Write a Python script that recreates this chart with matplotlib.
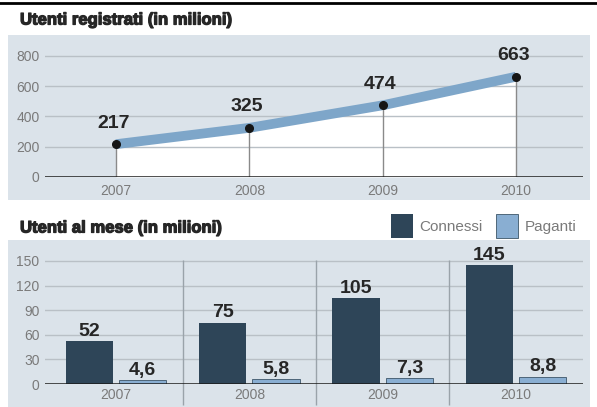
import matplotlib
matplotlib.use('Agg')
import matplotlib.pyplot as plt
import matplotlib.patheffects as pe
from matplotlib.patches import Rectangle
import numpy as np

# data
years = [2007, 2008, 2009, 2010]
registrati = [217, 325, 474, 663]
registrati_labels = ['217', '325', '474', '663']
connessi = [52, 75, 105, 145]
paganti = [4.6, 5.8, 7.3, 8.8]
connessi_labels = ['52', '75', '105', '145']
paganti_labels = ['4,6', '5,8', '7,3', '8,8']
top_yticks = [0, 200, 400, 600, 800]
bottom_yticks = [0, 30, 60, 90, 120, 150]

W, H = 597, 407
panel_color = '#dbe3ea'
band_color = '#7ea6c9'
dark_bar = '#2e4558'
light_bar = '#89aed2'
grid_color = '#b9c0c6'
tick_color = '#7a7a7a'
text_dark = '#262626'

font_main = ['Liberation Sans', 'DejaVu Sans']

def px_rect(x0, y0, x1, y1):
    # pixel box (top-left origin) -> figure fraction [l, b, w, h]
    return [x0 / W, 1 - y1 / H, (x1 - x0) / W, (y1 - y0) / H]

fig = plt.figure(figsize=(W / 100, H / 100), dpi=100)
fig.patch.set_facecolor('white')

# background panels
for (x0, y0, x1, y1) in [(8, 35, 590, 200), (8, 240, 590, 407)]:
    l, b, w, h = px_rect(x0, y0, x1, y1)
    fig.add_artist(Rectangle((l, b), w, h, transform=fig.transFigure,
                             facecolor=panel_color, edgecolor='none', zorder=0))

# top border line
fig.add_artist(plt.Line2D([0, 1], [1 - 3 / H, 1 - 3 / H], transform=fig.transFigure,
                          color='black', linewidth=2))

# titles (stroke makes them heavier, like the printed original)
heavy = [pe.withStroke(linewidth=0.9, foreground=text_dark)]
fig.text(20 / W, 1 - 20 / H, 'Utenti registrati (in milioni)', fontsize=12,
         fontweight='bold', family=font_main, color=text_dark, va='center',
         ha='left', path_effects=heavy)
fig.text(20 / W, 1 - 228 / H, 'Utenti al mese (in milioni)', fontsize=12,
         fontweight='bold', family=font_main, color=text_dark, va='center',
         ha='left', path_effects=heavy)

# ---------- top chart ----------
ax1 = fig.add_axes(px_rect(45, 40, 583, 177))
ax1.set_facecolor('none')
x_left = 2007 - (116 - 45) / 133.3
x_right = 2010 + (583 - 516) / 133.3
ax1.set_xlim(x_left, x_right)
ax1.set_ylim(0, 800 * 137 / 121)

ax1.fill_between(years, 0, registrati, color='white', zorder=1, linewidth=0)
for yv in top_yticks[1:]:
    ax1.axhline(yv, color=grid_color, linewidth=1, zorder=2)
ax1.vlines(years, 0, registrati, color='#8a8a8a', linewidth=1, zorder=2)
ax1.plot(years, registrati, color=band_color, linewidth=7, solid_capstyle='butt', zorder=3)
ax1.plot(years, registrati, 'o', color='#151515', markersize=5.5, zorder=4)
ax1.axhline(0, color='#1a1a1a', linewidth=1.8, zorder=5)

for x, y, lab in zip(years, registrati, registrati_labels):
    ax1.annotate(lab, (x, y), xytext=(-2, 9), textcoords='offset points',
                 ha='center', va='bottom', fontsize=14, fontweight='bold',
                 family=font_main, color=text_dark, zorder=6)

ax1.set_yticks(top_yticks)
ax1.set_yticklabels([str(t) for t in top_yticks])
ax1.set_xticks(years)
ax1.set_xticklabels([str(y) for y in years])
ax1.tick_params(length=0, colors=tick_color, labelsize=10)
ax1.tick_params(axis='y', pad=4)
ax1.tick_params(axis='x', pad=5)
for lab in ax1.get_xticklabels() + ax1.get_yticklabels():
    lab.set_family(font_main)
for s in ax1.spines.values():
    s.set_visible(False)

# ---------- bottom chart ----------
ax2 = fig.add_axes(px_rect(45, 258, 583, 384))
ax2.set_facecolor('none')
ax2.set_xlim(x_left, x_right)
ax2.set_ylim(0, 150 * 126 / 123)

for yv in bottom_yticks[1:]:
    ax2.axhline(yv, color=grid_color, linewidth=1, zorder=1)
seps = [y + 0.5 for y in years[:-1]]
ax2.vlines(seps, -26, 151, color='#9aa3aa', linewidth=1, zorder=1, clip_on=False)

xs = np.array(years)
bw = 0.355
ax2.bar(xs - 0.2, connessi, width=bw, color=dark_bar, zorder=3, label='Connessi')
ax2.bar(xs + 0.2, paganti, width=bw, color=light_bar, edgecolor='#3d5568',
        linewidth=0.6, zorder=3, label='Paganti')
ax2.axhline(0, color='#1a1a1a', linewidth=1.8, zorder=5)

for x, y, lab in zip(xs - 0.2, connessi, connessi_labels):
    ax2.annotate(lab, (x, y), xytext=(0, 1), textcoords='offset points',
                 ha='center', va='bottom', fontsize=14, fontweight='bold',
                 family=font_main, color=text_dark, zorder=6)
for x, y, lab in zip(xs + 0.2, paganti, paganti_labels):
    ax2.annotate(lab, (x, y), xytext=(0, 1), textcoords='offset points',
                 ha='center', va='bottom', fontsize=14, fontweight='bold',
                 family=font_main, color=text_dark, zorder=6)

ax2.set_yticks(bottom_yticks)
ax2.set_yticklabels([str(t) for t in bottom_yticks])
ax2.set_xticks(years)
ax2.set_xticklabels([str(y) for y in years])
ax2.tick_params(length=0, colors=tick_color, labelsize=10)
ax2.tick_params(axis='y', pad=4)
ax2.tick_params(axis='x', pad=3)
for lab in ax2.get_xticklabels() + ax2.get_yticklabels():
    lab.set_family(font_main)
for s in ax2.spines.values():
    s.set_visible(False)

leg = fig.legend(loc='center right', bbox_to_anchor=(590 / W, 1 - 226 / H),
                 ncol=2, frameon=False, handlelength=1.45, handleheight=2.0,
                 handletextpad=0.4, columnspacing=0.9,
                 prop={'family': font_main, 'size': 11})
for t in leg.get_texts():
    t.set_color(tick_color)

fig.savefig('out.png', dpi=100, facecolor=fig.get_facecolor())
